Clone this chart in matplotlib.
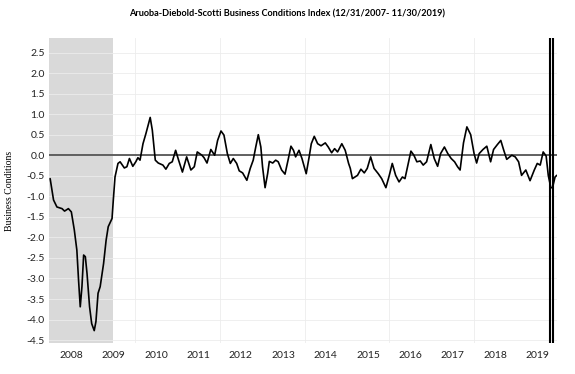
import matplotlib
matplotlib.use('Agg')
import matplotlib.pyplot as plt

# Readings taken off the reference chart (decimal year, index value)
years = [2008.00, 2008.08, 2008.16, 2008.28, 2008.34, 2008.43, 2008.50, 2008.57, 2008.63, 2008.67,
         2008.71, 2008.75, 2008.79, 2008.83, 2008.87, 2008.93, 2008.98, 2009.04, 2009.08, 2009.13,
         2009.18, 2009.26, 2009.32, 2009.37, 2009.46, 2009.49, 2009.53, 2009.60, 2009.65, 2009.75,
         2009.81, 2009.87, 2009.95, 2010.02, 2010.07, 2010.12, 2010.19, 2010.26, 2010.36, 2010.41,
         2010.48, 2010.55, 2010.66, 2010.73, 2010.81, 2010.88, 2010.96, 2011.03, 2011.12, 2011.22,
         2011.32, 2011.40, 2011.47, 2011.58, 2011.63, 2011.70, 2011.79, 2011.88, 2011.95, 2012.03,
         2012.10, 2012.18, 2012.25, 2012.32, 2012.40, 2012.46, 2012.54, 2012.64, 2012.72, 2012.79,
         2012.85, 2012.91, 2012.97, 2013.01, 2013.07, 2013.13, 2013.17, 2013.25, 2013.32, 2013.38,
         2013.46, 2013.54, 2013.62, 2013.68, 2013.74, 2013.79, 2013.87, 2013.94, 2014.04, 2014.11,
         2014.16, 2014.23, 2014.31, 2014.39, 2014.49, 2014.56, 2014.64, 2014.71, 2014.78, 2014.88,
         2014.96, 2015.04, 2015.08, 2015.13, 2015.25, 2015.33, 2015.41, 2015.48, 2015.56, 2015.64,
         2015.74, 2015.82, 2015.92, 2016.00, 2016.07, 2016.15, 2016.23, 2016.31, 2016.37, 2016.43,
         2016.51, 2016.58, 2016.65, 2016.73, 2016.80, 2016.88, 2016.98, 2017.06, 2017.14, 2017.21,
         2017.30, 2017.38, 2017.46, 2017.54, 2017.61, 2017.67, 2017.75, 2017.83, 2017.92, 2018.00,
         2018.06, 2018.12, 2018.21, 2018.30, 2018.39, 2018.46, 2018.55, 2018.63, 2018.70, 2018.77,
         2018.89, 2018.97, 2019.05, 2019.12, 2019.22, 2019.32, 2019.42, 2019.49, 2019.56, 2019.63,
         2019.70, 2019.75, 2019.81, 2019.85, 2019.91, 2019.95]
ads = [-0.57, -1.09, -1.26, -1.30, -1.36, -1.30, -1.38, -1.82, -2.31, -3.04,
       -3.69, -3.20, -2.43, -2.47, -2.88, -3.69, -4.10, -4.27, -4.05, -3.36,
       -3.20, -2.64, -2.07, -1.74, -1.54, -1.09, -0.53, -0.20, -0.16, -0.31,
       -0.28, -0.08, -0.27, -0.16, -0.06, -0.12, 0.28, 0.53, 0.92, 0.61,
       -0.12, -0.19, -0.24, -0.34, -0.20, -0.16, 0.12, -0.12, -0.41, -0.04,
       -0.36, -0.28, 0.08, 0.00, -0.06, -0.19, 0.14, 0.00, 0.36, 0.59,
       0.49, 0.04, -0.20, -0.08, -0.20, -0.38, -0.43, -0.61, -0.32, -0.12,
       0.20, 0.50, 0.20, -0.28, -0.79, -0.45, -0.15, -0.19, -0.12, -0.16,
       -0.36, -0.46, -0.08, 0.22, 0.12, -0.04, 0.12, -0.08, -0.45, -0.04,
       0.28, 0.46, 0.28, 0.23, 0.30, 0.20, 0.06, 0.16, 0.08, 0.28,
       0.12, -0.20, -0.32, -0.57, -0.49, -0.34, -0.43, -0.32, -0.04, -0.32,
       -0.45, -0.57, -0.79, -0.49, -0.20, -0.49, -0.65, -0.53, -0.57, -0.28,
       0.10, 0.00, -0.16, -0.14, -0.24, -0.16, 0.26, -0.08, -0.27, 0.04,
       0.20, 0.04, -0.08, -0.16, -0.28, -0.36, 0.30, 0.69, 0.50, 0.04,
       -0.19, 0.04, 0.14, 0.22, -0.16, 0.14, 0.26, 0.36, 0.12, -0.10,
       0.00, -0.04, -0.16, -0.49, -0.36, -0.62, -0.36, -0.20, -0.24, 0.08,
       -0.02, -0.49, -0.79, -0.79, -0.53, -0.49]

recession = (2007.97, 2009.49)
markers = [2019.78, 2019.85]
year_labels = [str(y) for y in range(2008, 2020)]
y_ticks = [2.5, 2.0, 1.5, 1.0, 0.5, 0.0, -0.5, -1.0, -1.5, -2.0, -2.5, -3.0, -3.5, -4.0, -4.5]

fig = plt.figure(figsize=(5.75, 3.74), dpi=100)
ax = fig.add_axes([0.085, 0.083, 0.884, 0.815])

ax.axvspan(recession[0], recession[1], color='#d9d9d9', zorder=0, lw=0)
for yt in y_ticks:
    ax.axhline(yt, color='#ececec', lw=0.6, zorder=0.5)
for xg in range(2010, 2020, 2):
    ax.axvline(xg, color='#ececec', lw=0.6, zorder=0.5)
ax.axhline(0, color='#555555', lw=1.3, zorder=1)

ax.plot(years, ads, color='black', lw=1.2, zorder=2,
        solid_joinstyle='round', solid_capstyle='round')
for m in markers:
    ax.axvline(m, color='black', lw=1.5, zorder=3)

ax.set_xlim(2007.97, 2019.96)
ax.set_ylim(-4.57, 2.85)
ax.set_yticks(y_ticks)
ax.set_yticklabels([f'{v:.1f}' for v in y_ticks], family='Lato', fontsize=7.5, color='#222222')
ax.set_xticks([y + 0.5 for y in range(2008, 2020)])
ax.set_xticklabels(year_labels, family='Lato', fontsize=7.5, color='#222222')
ax.tick_params(axis='y', length=0, pad=3)
ax.tick_params(axis='x', length=0, pad=6)
for s in ax.spines.values():
    s.set_visible(False)

ax.set_ylabel('Business Conditions', family='Liberation Serif', fontsize=7, labelpad=9)
fig.suptitle('Aruoba-Diebold-Scotti Business Conditions Index (12/31/2007- 11/30/2019)',
             family='Lato', fontweight='bold', fontsize=6.6, y=0.975)

fig.savefig('out.png', dpi=100)
